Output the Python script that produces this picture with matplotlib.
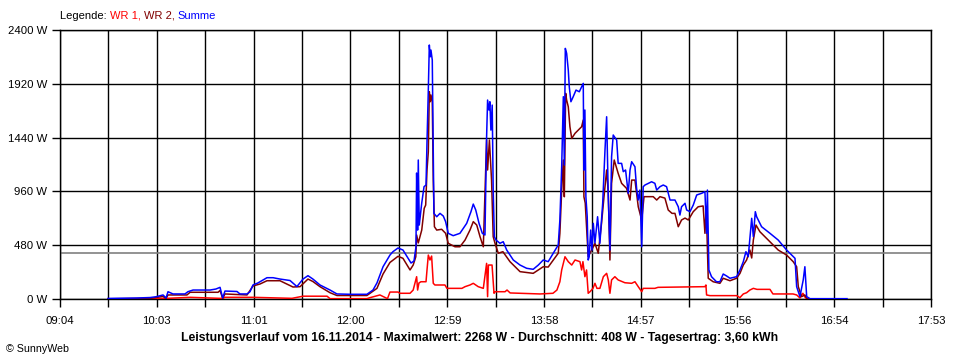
import matplotlib
matplotlib.use("Agg")
import matplotlib.pyplot as plt
import numpy as np

plt.rcParams['font.family'] = ['Liberation Sans', 'DejaVu Sans']

# ---------------- data (time in minutes since midnight, power in W) ----------------
x_start, x_end = 544, 1073          # 09:04 .. 17:53
tick_labels = ["09:04", "10:03", "11:01", "12:00", "12:59",
               "13:58", "14:57", "15:56", "16:54", "17:53"]
y_ticks = [0, 480, 960, 1440, 1920, 2400]
y_tick_labels = ["0 W", "480 W", "960 W", "1440 W", "1920 W", "2400 W"]
average_w = 408
title_text = ("Leistungsverlauf vom 16.11.2014 - Maximalwert: 2268 W - "
              "Durchschnitt: 408 W - Tagesertrag: 3,60 kWh")

t_sum = [573.2, 590.8, 598.7, 602.3, 606.6, 608.4, 609.6, 612.6, 619.9, 621.7, 624.8, 635.1,
         638.7, 641.2, 642.8, 644.2, 651.5, 653.3, 657.6, 659.4, 661.2, 664.2, 669.7, 673.4,
         677.6, 683.7, 687.9, 691.6, 694.6, 697.6, 701.9, 708.0, 712.2, 720.1, 730.4, 734.1,
         736.5, 740.2, 742.6, 744.4, 746.2, 749.3, 752.3, 755.3, 757.2, 759.0, 760.2, 760.6,
         761.2, 761.6, 762.2, 763.7, 765.1, 766.3, 766.9, 767.7, 768.3, 768.9, 769.3, 770.1,
         770.7, 771.1, 772.8, 774.8, 776.8, 778.2, 779.8, 782.8, 786.9, 791.0, 793.6, 795.0,
         796.5, 798.5, 800.5, 802.1, 803.1, 803.7, 804.5, 805.1, 805.7, 806.5, 807.1, 807.8,
         808.8, 811.2, 813.2, 815.3, 819.3, 823.4, 827.4, 831.4, 834.5, 837.5, 840.5, 843.6,
         846.6, 847.6, 848.7, 849.7, 850.3, 850.9, 851.7, 852.7, 853.3, 854.3, 855.7, 857.4,
         859.4, 860.8, 861.8, 862.2, 862.8, 863.4, 864.2, 864.8, 865.4, 866.3, 867.1, 867.9,
         868.9, 870.5, 871.9, 873.6, 875.0, 876.0, 877.0, 878.0, 879.0, 880.0, 882.1, 883.0,
         885.1, 886.1, 887.5, 889.1, 890.2, 891.2, 893.2, 894.2, 895.2, 896.2, 897.3, 898.2,
         899.3, 903.3, 905.3, 906.4, 908.4, 910.4, 912.4, 914.5, 917.5, 919.5, 920.5, 921.5,
         923.6, 924.6, 926.6, 928.6, 930.7, 933.7, 935.7, 936.7, 937.2, 938.1, 939.7, 942.7,
         944.8, 946.8, 948.9, 950.9, 954.9, 957.0, 959.0, 960.6, 962.0, 964.1, 965.1, 966.3,
         967.1, 970.1, 975.2, 980.2, 985.3, 990.4, 991.4, 993.4, 995.4, 996.4, 997.5, 999.5,
         1022.0]
summe = [5, 9, 13, 20, 36, 9, 65, 45, 45, 65, 80, 80,
         89, 104, 9, 71, 67, 45, 45, 65, 125, 143, 190, 190,
         178, 165, 111, 178, 208, 178, 125, 80, 45, 42, 42, 80,
         143, 288, 348, 392, 422, 455, 437, 366, 321, 339, 466, 1124,
         615, 1240, 660, 856, 1002, 1017, 1403, 1864, 2266, 2161, 2221, 2132,
         1302, 764, 734, 764, 740, 690, 586, 565, 586, 675, 779, 847,
         794, 675, 586, 571, 1448, 1775, 1686, 1760, 1507, 1730, 972, 556,
         526, 497, 511, 437, 348, 303, 274, 265, 303, 348, 333, 408,
         482, 705, 1180, 1805, 1195, 2236, 2192, 2043, 1894, 1760, 1805, 1864,
         1849, 1894, 1924, 1150, 1686, 912, 734, 348, 377, 615, 437, 675,
         500, 734, 497, 854, 1329, 1626, 912, 437, 1269, 1463, 1418, 1210,
         1210, 1136, 1151, 943, 1151, 1225, 1180, 987, 883, 972, 466, 1002,
         1017, 1046, 1032, 972, 1002, 1017, 1002, 883, 883, 823, 749, 823,
         854, 794, 779, 838, 928, 943, 957, 586, 972, 259, 199, 154,
         154, 223, 205, 185, 199, 259, 333, 422, 377, 720, 556, 779,
         734, 645, 586, 526, 437, 363, 110, 21, 170, 288, 21, 3,
         3]

t_wr1 = [573.2, 604.7, 609.6, 623.0, 643.0, 644.2, 661.2, 684.9, 691.6, 706.2, 708.0, 730.4,
         732.3, 738.3, 742.9, 744.4, 749.3, 750.5, 756.6, 758.5, 760.6, 761.2, 762.0, 763.2,
         766.3, 766.9, 767.7, 768.7, 769.7, 770.7, 771.7, 777.8, 779.0, 788.1, 790.0, 793.0,
         795.0, 798.0, 801.1, 803.1, 803.7, 804.2, 806.4, 807.6, 808.2, 814.3, 815.5, 817.4,
         835.5, 843.4, 845.8, 847.6, 848.7, 850.7, 852.7, 854.8, 856.8, 859.8, 860.8, 861.6,
         862.8, 863.8, 864.8, 865.9, 867.7, 868.9, 870.1, 871.9, 874.0, 876.0, 877.0, 878.0,
         879.0, 881.0, 883.0, 887.1, 891.2, 893.2, 895.2, 897.3, 898.2, 905.3, 907.2, 935.7,
         936.3, 936.7, 938.7, 955.1, 956.9, 959.0, 961.0, 963.0, 965.1, 967.3, 975.2, 977.0,
         989.2, 991.4, 993.4, 995.2, 996.4, 997.6]
wr1 = [2, 3, 6, 15, 5, 15, 15, 6, 25, 25, 3, 3,
       12, 36, 3, 62, 62, 51, 51, 80, 199, 80, 143, 154,
       154, 259, 392, 348, 383, 140, 125, 125, 95, 95, 110, 125,
       140, 110, 95, 318, 21, 303, 303, 51, 65, 65, 80, 54,
       45, 51, 80, 154, 259, 377, 333, 303, 348, 333, 259, 333,
       199, 259, 51, 65, 95, 140, 95, 95, 199, 229, 170, 51,
       170, 199, 170, 145, 140, 154, 110, 65, 95, 95, 104, 110,
       125, 36, 30, 30, 12, 45, 56, 80, 95, 86, 86, 45,
       45, 36, 9, 51, 18, 0]

t_wr2 = [573.2, 598.7, 602.9, 606.6, 608.4, 609.6, 621.1, 623.0, 640.0, 641.2, 642.8, 644.2,
         657.6, 661.2, 665.5, 669.7, 677.6, 685.5, 689.8, 694.6, 697.6, 701.9, 708.0, 712.2,
         730.4, 736.5, 740.2, 744.4, 749.3, 752.3, 756.6, 758.5, 760.1, 760.6, 761.6, 763.7,
         765.2, 766.1, 766.9, 767.7, 768.3, 768.9, 769.3, 770.1, 770.7, 771.4, 772.8, 775.8,
         778.2, 779.8, 783.9, 786.9, 790.0, 793.0, 795.0, 797.1, 799.1, 801.1, 803.1, 803.7,
         804.8, 806.1, 807.1, 808.2, 810.2, 813.0, 817.3, 823.4, 831.4, 834.5, 837.5, 840.5,
         843.6, 846.6, 847.6, 848.7, 849.7, 850.3, 851.1, 851.7, 852.7, 853.7, 854.8, 856.8,
         858.8, 860.8, 861.8, 862.2, 863.0, 863.8, 864.8, 866.9, 868.9, 870.9, 872.9, 874.4,
         876.0, 877.0, 878.0, 879.0, 880.6, 883.0, 885.1, 888.1, 890.2, 891.2, 893.2, 895.2,
         897.3, 898.7, 901.3, 904.3, 906.4, 908.4, 911.4, 913.4, 915.7, 917.5, 919.5, 921.5,
         923.6, 925.6, 928.6, 931.6, 934.6, 935.7, 936.5, 937.7, 940.7, 944.8, 946.8, 950.9,
         954.9, 957.0, 959.0, 961.0, 963.0, 964.1, 965.1, 966.7, 969.1, 975.2, 980.2, 985.3,
         989.3, 991.4, 992.4, 994.4, 996.4, 997.6, 999.5]
wr2 = [2, 5, 15, 22, 5, 36, 36, 60, 60, 76, 5, 45,
       36, 116, 134, 163, 163, 107, 110, 178, 156, 110, 56, 31,
       31, 95, 223, 326, 381, 363, 259, 303, 377, 571, 500, 615,
       809, 838, 1151, 1314, 1849, 1760, 1820, 1760, 1061, 645, 615, 622,
       586, 497, 466, 466, 526, 615, 690, 660, 556, 466, 1418, 1151,
       1418, 1061, 556, 497, 408, 422, 333, 244, 229, 259, 288, 285,
       348, 408, 586, 972, 1240, 912, 1835, 1775, 1715, 1537, 1433, 1478,
       1507, 1537, 1597, 912, 856, 645, 377, 437, 497, 408, 675, 912,
       1151, 943, 348, 1032, 1240, 1121, 1032, 987, 883, 1061, 1061, 823,
       705, 913, 913, 913, 883, 913, 900, 794, 764, 764, 645, 705,
       722, 705, 779, 823, 830, 586, 825, 185, 154, 140, 185, 163,
       185, 229, 303, 348, 437, 366, 526, 660, 600, 511, 437, 392,
       333, 288, 110, 21, 36, 2, 2]

# ---------------- figure ----------------
W, H = 960, 360
fig = plt.figure(figsize=(W / 100, H / 100), dpi=100)
ax = fig.add_axes([60 / W, 1 - 299 / H, (931 - 60) / W, (299 - 30) / H])

ax.set_xlim(x_start, x_end)
ax.set_ylim(0, 2400)

xt = np.linspace(x_start, x_end, 2 * (len(tick_labels) - 1) + 1)
ax.set_xticks(xt)
labs = []
for i in range(len(xt)):
    labs.append(tick_labels[i // 2] if i % 2 == 0 else "")
ax.set_xticklabels(labs)
ax.set_yticks(y_ticks)
ax.set_yticklabels(y_tick_labels)
ax.tick_params(direction='out', length=6, width=1, color='black',
               labelsize=8.2, pad=3, labelcolor='black')
ax.tick_params(axis='x', pad=6)
ax.grid(True, color='black', linewidth=1)
ax.set_axisbelow(True)
for s in ax.spines.values():
    s.set_color('black')
    s.set_linewidth(1)

ax.axhline(average_w, color='#808080', linewidth=1.2, zorder=1.5)

ax.plot(t_wr1, wr1, color='#ff0000', linewidth=1.1, zorder=3)
ax.plot(t_wr2, wr2, color='#800000', linewidth=1.1, zorder=3)
ax.plot(t_sum, summe, color='#0000ff', linewidth=1.1, zorder=3)

fig.text(480 / W, 1 - 338 / H, title_text, ha='center', va='center',
         fontsize=8.8, fontweight='bold')
fig.text(6 / W, 1 - 349 / H, "\u00a9 SunnyWeb", ha='left', va='center', fontsize=7.7)

# legend text with coloured parts
fig.canvas.draw()
r = fig.canvas.get_renderer()
parts = [("Legende: ", 'black'), ("WR 1, ", '#ff0000'), ("WR 2, ", '#800000'),
         ("Summe", '#0000ff')]
xpix = 60
for txt, col in parts:
    t = fig.text(xpix / W, 1 - 16 / H, txt, color=col, fontsize=8,
                 ha='left', va='center')
    bb = t.get_window_extent(r)
    xpix += bb.width

fig.savefig("out.png", dpi=100)
